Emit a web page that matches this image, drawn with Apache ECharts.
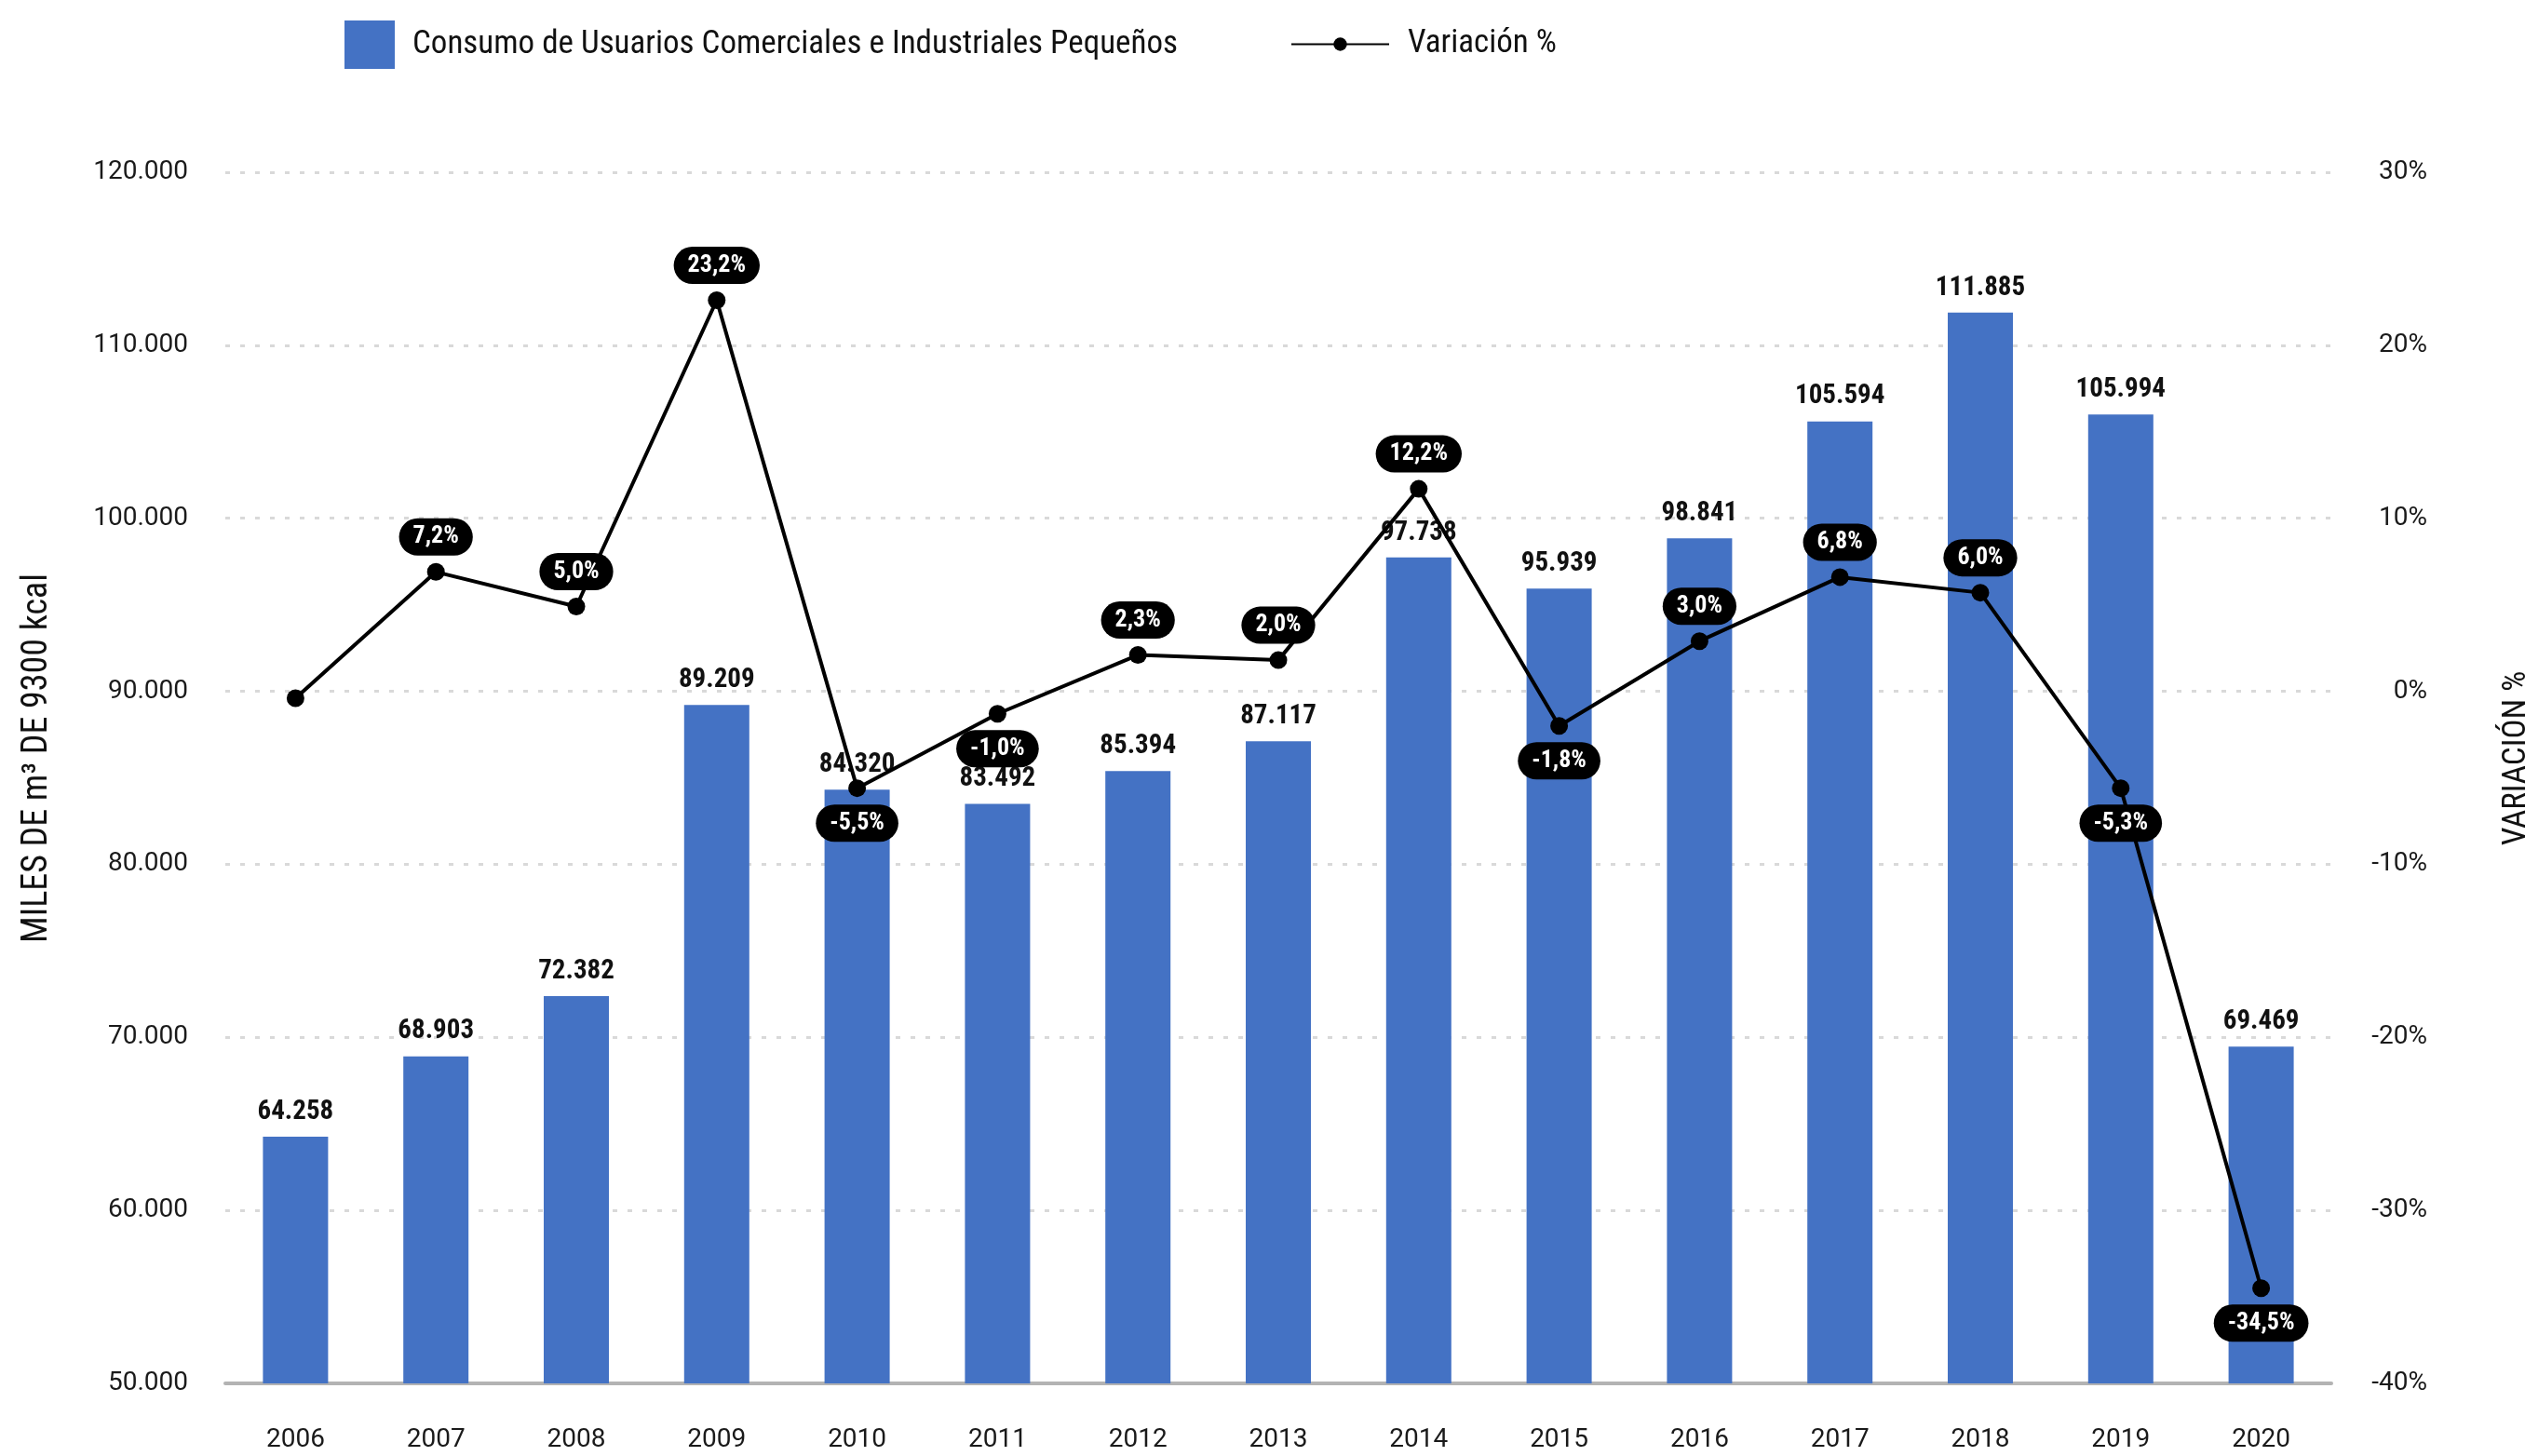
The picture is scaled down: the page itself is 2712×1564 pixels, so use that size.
<!DOCTYPE html>
<html>
<head>
<meta charset="utf-8">
<script src="https://cdn.jsdelivr.net/npm/echarts@6/dist/echarts.min.js"></script>
<style>
html,body{margin:0;padding:0;background:#fff;}
#chart{width:2712px;height:1564px;}
</style>
</head>
<body>
<div id="chart"></div>
<script>
var categories = ['2006','2007','2008','2009','2010','2011','2012','2013','2014','2015','2016','2017','2018','2019','2020'];
var consumo = [64258, 68903, 72382, 89209, 84320, 83492, 85394, 87117, 97738, 95939, 98841, 105594, 111885, 105994, 69469];
var variacion = [-0.4, 6.9, 4.9, 22.6, -5.6, -1.3, 2.1, 1.8, 11.7, -2.0, 2.9, 6.6, 5.7, -5.6, -34.5];
var variacionLabels = ['', '7,2%', '5,0%', '23,2%', '-5,5%', '-1,0%', '2,3%', '2,0%', '12,2%', '-1,8%', '3,0%', '6,8%', '6,0%', '-5,3%', '-34,5%'];
var leftAxisRange = [50000, 120000, 10000];
var rightAxisRange = [-40, 30, 10];
var barName = 'Consumo de Usuarios Comerciales e Industriales Pequeños';
var lineName = 'Variación %';
var leftAxisName = 'MILES DE m³ DE 9300 kcal';
var rightAxisName = 'VARIACIÓN %';

var NARROW = "'Liberation Sans Narrow','Arial Narrow','Roboto Condensed',sans-serif";
var ROBOTO = "Roboto, 'Noto Sans', sans-serif";

function fmtThousands(v) {
  return String(Math.round(v)).replace(/\B(?=(\d{3})+(?!\d))/g, '.');
}

var lineData = variacion.map(function (v, i) {
  var lbl = variacionLabels[i];
  return {
    value: v,
    label: {
      show: lbl !== '',
      position: (lbl.charAt(0) === '-') ? 'bottom' : 'top'
    }
  };
});

var chart = echarts.init(document.getElementById('chart'));
chart.setOption({
  animation: false,
  backgroundColor: '#ffffff',
  legend: [{
    data: [barName],
    left: 365,
    top: 17,
    itemWidth: 54,
    itemHeight: 52,
    icon: 'rect',
    textStyle: { fontFamily: NARROW, fontSize: 35, color: '#111', padding: [0, 0, 0, 14] }
  }, {
    data: [lineName],
    left: 1381,
    top: 25,
    itemWidth: 105,
    itemHeight: 18,
    textStyle: { fontFamily: NARROW, fontSize: 35, color: '#111', padding: [0, 0, 0, 15] }
  }],
  grid: { left: 242, right: 208, top: 185, bottom: 78, containLabel: false, outerBoundsMode: 'none' },
  xAxis: {
    type: 'category',
    data: categories,
    axisLine: { show: true, onZero: false, lineStyle: { color: '#b3b3b3', width: 4 } },
    axisTick: { show: false },
    axisLabel: { fontFamily: ROBOTO, fontSize: 28, color: '#1a1a1a', margin: 47 }
  },
  yAxis: [{
    type: 'value',
    min: leftAxisRange[0], max: leftAxisRange[1], interval: leftAxisRange[2],
    name: leftAxisName,
    nameLocation: 'middle',
    nameGap: 183,
    nameRotate: 90,
    nameTextStyle: { fontFamily: NARROW, fontSize: 38, color: '#111', padding: [0, 0, 0, 42] },
    axisLine: { show: false },
    axisTick: { show: false },
    axisLabel: { fontFamily: ROBOTO, fontSize: 28, color: '#1a1a1a', margin: 40, formatter: function (v) { return fmtThousands(v); } },
    splitLine: { show: true, lineStyle: { color: '#d9d9d9', width: 3, type: [5, 11] } }
  }, {
    type: 'value',
    position: 'right',
    min: rightAxisRange[0], max: rightAxisRange[1], interval: rightAxisRange[2],
    name: rightAxisName,
    nameLocation: 'middle',
    nameGap: 182,
    nameRotate: 90,
    nameTextStyle: { fontFamily: NARROW, fontSize: 35, color: '#111', padding: [0, 0, 0, 42] },
    axisLine: { show: false },
    axisTick: { show: false },
    axisLabel: { fontFamily: ROBOTO, fontSize: 28, color: '#1a1a1a', margin: 103, align: 'right', formatter: '{value}%' },
    splitLine: { show: false }
  }],
  series: [{
    name: barName,
    type: 'bar',
    yAxisIndex: 0,
    data: consumo,
    barWidth: 70,
    itemStyle: { color: '#4472C4' },
    label: {
      show: true,
      position: 'top',
      distance: 12,
      fontFamily: NARROW,
      fontWeight: 'bold',
      fontSize: 29,
      color: '#111',
      formatter: function (p) { return fmtThousands(p.value); }
    }
  }, {
    name: lineName,
    type: 'line',
    yAxisIndex: 1,
    data: lineData,
    symbol: 'circle',
    symbolSize: 19,
    lineStyle: { color: '#000', width: 4 },
    itemStyle: { color: '#000' },
    label: {
      show: true,
      distance: 8,
      backgroundColor: '#000',
      borderRadius: 20,
      padding: [7, 15],
      color: '#fff',
      fontFamily: NARROW,
      fontWeight: 'bold',
      fontSize: 26,
      lineHeight: 26,
      formatter: function (p) { return variacionLabels[p.dataIndex]; }
    },
    z: 5
  }]
});
</script>
</body>
</html>
